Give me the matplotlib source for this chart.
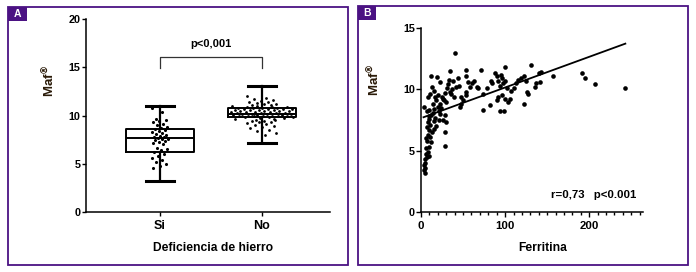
import numpy as np
import matplotlib
matplotlib.use('Agg')
import matplotlib.pyplot as plt
from matplotlib.patches import Rectangle

plt.rcParams['font.family'] = ['Liberation Sans', 'DejaVu Sans']

# panel A: box plot data
groups = ['Si', 'No']
whislo = [3.2, 7.2]
q1 = [6.2, 9.8]
med = [7.7, 10.2]
q3 = [8.6, 10.8]
whishi = [11.0, 13.1]

si_vals = [10.8, 10.4, 9.6, 9.5, 9.4, 9.3, 9.1, 9.0, 8.8, 8.7, 8.6, 8.5, 8.4, 8.3,
           8.2, 8.1, 8.0, 7.9, 7.8, 7.8, 7.7, 7.6, 7.6, 7.5, 7.4, 7.3, 7.2, 7.0,
           6.6, 6.5, 6.4, 6.2, 6.0, 5.8, 5.6, 5.4, 5.2, 5.0, 4.8, 4.6]
no_vals = [12.0, 11.8, 11.7, 11.6, 11.5, 11.4, 11.4, 11.3, 11.2, 11.2, 11.1, 11.1,
           11.0, 11.0, 10.9, 10.9, 10.9, 10.8, 10.8, 10.8, 10.8, 10.7, 10.7, 10.7,
           10.7, 10.6, 10.6, 10.6, 10.6, 10.5, 10.5, 10.5, 10.5, 10.4, 10.4, 10.4,
           10.4, 10.3, 10.3, 10.3, 10.3, 10.2, 10.2, 10.2, 10.2, 10.1, 10.1, 10.1,
           10.0, 10.0, 10.0, 10.0, 9.9, 9.9, 9.9, 9.8, 9.8, 9.8, 9.7, 9.7, 9.6,
           9.6, 9.5, 9.5, 9.4, 9.4, 9.3, 9.3, 9.2, 9.1, 9.0, 8.9, 8.8, 8.7, 8.5,
           8.4, 8.2, 8.0]

# panel B: scatter data (ferritina, maf)
ferritina = [4, 41, 54, 71, 35, 12, 19, 23, 33, 38, 44, 42, 31, 34, 28, 20, 17, 11,
             8, 25, 30, 27, 23, 18, 14, 20, 16, 10, 7, 12, 17, 22, 28, 30, 26, 21,
             15, 8, 11, 7, 10, 13, 8, 11, 7, 12, 29, 29, 9, 6, 8, 6, 9, 7, 5, 5, 4,
             5, 4, 5, 13, 15, 36, 39, 48, 46, 47, 50,
             54, 56, 58, 61, 63, 66, 68, 54, 53, 74, 74, 82, 79, 83, 85, 88, 90, 92,
             94, 95, 96, 98, 100, 100, 102, 92, 90, 96, 100, 104, 106, 107, 110, 94,
             99, 113, 115, 119, 122, 123, 125, 126, 127, 131, 135, 137, 140, 142,
             143, 157, 191, 195, 207, 243,
             9, 14, 18, 24, 6, 10, 16, 21, 26, 32, 37, 45]
maf = [8.6, 13.0, 11.6, 11.6, 11.5, 11.1, 11.0, 10.6, 10.8, 10.7, 10.9, 10.2, 10.1,
       9.8, 9.7, 9.5, 9.4, 9.6, 9.4, 9.4, 9.0, 9.1, 8.8, 9.1, 8.8, 8.6, 8.4, 8.3,
       8.2, 7.9, 7.7, 8.0, 7.9, 7.3, 7.5, 7.5, 7.4, 7.3, 7.1, 6.9, 6.7, 6.5, 6.3,
       6.1, 5.8, 5.7, 6.5, 5.4, 5.3, 5.2, 4.9, 4.7, 4.6, 4.5, 4.3, 4.0, 3.8, 3.6,
       3.4, 3.2, 10.2, 9.9, 9.6, 9.4, 9.4, 8.6, 8.8, 9.1,
       11.1, 10.6, 10.2, 10.5, 10.7, 10.2, 10.1, 9.8, 9.5, 9.6, 8.3, 8.7, 10.1,
       10.7, 10.5, 11.3, 11.1, 10.7, 10.3, 11.2, 10.9, 10.5, 11.8, 10.7, 10.1,
       9.4, 9.1, 9.5, 9.2, 9.0, 9.2, 9.9, 10.1, 8.2, 8.2, 10.5, 10.8, 10.9, 8.8,
       11.1, 10.7, 9.8, 9.6, 12.0, 10.2, 10.5, 11.3, 10.6, 11.4, 11.1, 11.3,
       10.9, 10.4, 10.1,
       7.6, 8.1, 7.0, 8.5, 6.0, 7.8, 6.8, 8.2, 9.2, 10.4, 10.0, 10.3]
fit_intercept = 7.65
fit_slope = 0.025
fit_range = [3, 243]

purple = '#4b1283'
label_color = '#2a1a08'

fig = plt.figure(figsize=(6.96, 2.72), dpi=100)
W, H = 696, 272


def fig_box(x0, y0, x1, y1, **kw):
    # pixel coords (top-left origin) -> figure fraction
    return Rectangle((x0 / W, 1 - y1 / H), (x1 - x0) / W, (y1 - y0) / H,
                     transform=fig.transFigure, **kw)


fig.patches.append(fig_box(8, 7, 348, 265, fill=False, ec=purple, lw=1.3))
fig.patches.append(fig_box(358, 6, 688, 265, fill=False, ec=purple, lw=1.3))
fig.patches.append(fig_box(8, 7, 27, 21, fc=purple, ec='none'))
fig.patches.append(fig_box(358, 6, 376, 20, fc=purple, ec='none'))
fig.text(17.5 / W, 1 - 14 / H, 'A', color='white', fontsize=7.5, fontweight='bold',
         ha='center', va='center')
fig.text(367 / W, 1 - 13 / H, 'B', color='white', fontsize=7.5, fontweight='bold',
         ha='center', va='center')

# ---- panel A
ax1 = fig.add_axes([86 / W, 1 - 212 / H, 244 / W, 193 / H])
stats = []
for i in range(2):
    stats.append({'whislo': whislo[i], 'q1': q1[i], 'med': med[i], 'q3': q3[i],
                  'whishi': whishi[i], 'fliers': []})
ax1.bxp(stats, positions=[0, 1], widths=0.66, showfliers=False,
        boxprops=dict(color='black', lw=1.4),
        medianprops=dict(color='black', lw=1.4),
        whiskerprops=dict(color='black', lw=1.6),
        capprops=dict(color='black', lw=2.2), capwidths=0.27)

n = len(si_vals)
off_si = [((i * 0.618) % 1 - 0.5) * 0.16 for i in range(n)]
ax1.scatter(np.array(off_si), si_vals, s=5, color='black', zorder=3, lw=0)
off_no = []
for i, v in enumerate(no_vals):
    w = 0.62 if 9.6 <= v <= 11.0 else 0.3
    off_no.append(1 + ((i * 0.618) % 1 - 0.5) * w)
ax1.scatter(off_no, no_vals, s=4, color='black', zorder=3, lw=0)

# significance bracket
ax1.plot([0, 0, 1, 1], [14.9, 16.05, 16.05, 14.9], color='#333333', lw=0.9)
ax1.text(0.5, 16.9, 'p<0,001', ha='center', va='bottom', fontsize=8, fontweight='bold')

ax1.set_xlim(-0.725, 1.667)
ax1.set_ylim(0, 20)
ax1.set_yticks([0, 5, 10, 15, 20])
ax1.set_xticks([0, 1])
ax1.set_xticklabels(groups, fontsize=9, fontweight='bold')
for lab in ax1.get_yticklabels():
    lab.set_fontweight('bold')
ax1.tick_params(axis='y', labelsize=7.8, length=3, width=1, pad=1)
ax1.tick_params(axis='x', length=3, width=1, pad=3)
ax1.spines[['top', 'right']].set_visible(False)
ax1.spines[['left', 'bottom']].set_linewidth(1.1)
ax1.set_xlabel('Deficiencia de hierro', fontsize=8.7, fontweight='bold', va='top')
ax1.xaxis.set_label_coords(0.52, -0.155)
ax1.set_ylabel('Maf$^{\\mathbf{®}}$', fontsize=9.5, fontweight='bold', color=label_color)
ax1.yaxis.set_label_coords(-0.12, 0.68)

# ---- panel B
ax2 = fig.add_axes([421 / W, 1 - 212 / H, 222 / W, 184 / H])
ax2.scatter(ferritina, maf, s=11, color='black', lw=0, zorder=3)
xs = np.array(fit_range)
ax2.plot(xs, fit_intercept + fit_slope * xs, color='black', lw=1.3)
ax2.text(0.97, 0.09, 'r=0,73   p<0.001', transform=ax2.transAxes, ha='right',
         va='center', fontsize=8.2, fontweight='bold')
ax2.set_xlim(0, 264)
ax2.set_ylim(0, 15)
ax2.set_xticks([0, 100, 200])
ax2.set_xticks(np.arange(10, 261, 10), minor=True)
ax2.set_yticks([0, 5, 10, 15])
for lab in ax2.get_xticklabels() + ax2.get_yticklabels():
    lab.set_fontweight('bold')
ax2.tick_params(axis='both', which='major', labelsize=7.8, length=3.5, width=1, pad=1)
ax2.tick_params(axis='x', which='major', labelsize=8.2, pad=3)
ax2.tick_params(axis='x', which='minor', length=2.5, width=1)
ax2.spines[['top', 'right']].set_visible(False)
ax2.spines[['left', 'bottom']].set_linewidth(1.1)
ax2.set_xlabel('Ferritina', fontsize=8.7, fontweight='bold', va='top')
ax2.xaxis.set_label_coords(0.55, -0.163)
ax2.set_ylabel('Maf$^{\\mathbf{®}}$', fontsize=9.5, fontweight='bold', color=label_color)
ax2.yaxis.set_label_coords(-0.175, 0.72)

fig.savefig('out.png', dpi=100)
